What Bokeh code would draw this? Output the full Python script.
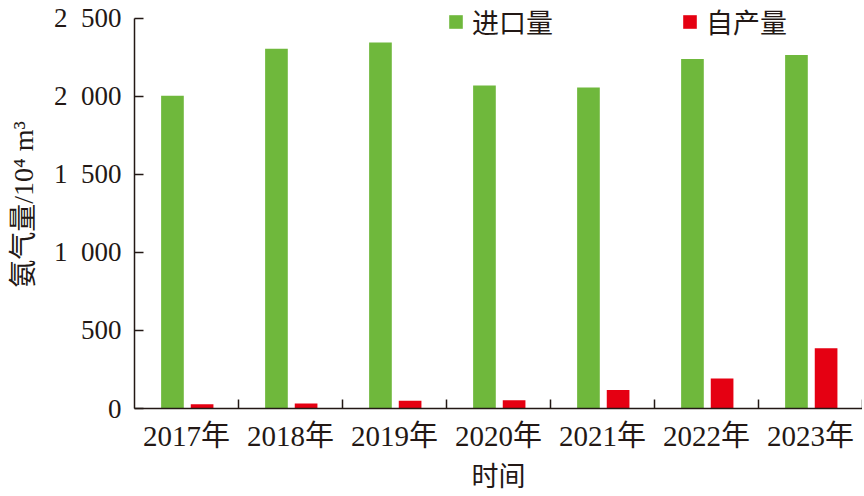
import numpy as np
from bokeh.plotting import figure
from bokeh.models import Range1d, FixedTicker, Legend, LegendItem, ColumnDataSource
from bokeh.transform import dodge
from bokeh.embed import file_html
from bokeh.resources import INLINE

# ---- data ----
years = ["2017年", "2018年", "2019年", "2020年", "2021年", "2022年", "2023年"]
imports = [2005, 2306, 2346, 2070, 2057, 2240, 2265]
domestic = [28, 32, 49, 53, 119, 193, 386]
series_names = ["进口量", "自产量"]
y_ticks = [0, 500, 1000, 1500, 2000, 2500]

GREEN = "#6fb83c"
RED = "#e50012"
INK = "#231815"
SERIF = "'Liberation Serif', 'Noto Sans CJK SC'"
CJK = "'Noto Sans CJK SC'"

idx = np.arange(len(years))
src = ColumnDataSource(dict(x=idx + 0.5, imports=imports, domestic=domestic))

# frame extends a little above 2500 so the legend can sit there; axis line bounded at 2500
p = figure(width=862, height=496,
           x_range=Range1d(0, len(years)), y_range=Range1d(0, 2615),
           output_backend="svg", toolbar_location=None,
           min_border_left=134, min_border_top=0,
           min_border_right=0, min_border_bottom=87)
p.outline_line_color = None
p.xgrid.grid_line_color = None
p.ygrid.grid_line_color = None
p.background_fill_color = "white"
p.border_fill_color = "white"

r1 = p.vbar(x=dodge("x", -0.135, range=p.x_range), top="imports", width=0.218,
            source=src, fill_color=GREEN, line_color=None)
r2 = p.vbar(x=dodge("x", 0.15, range=p.x_range), top="domestic", width=0.218,
            source=src, fill_color=RED, line_color=None)

# x axis
p.xaxis.ticker = FixedTicker(ticks=list(idx + 0.5), minor_ticks=list(range(1, len(years) + 1)))
p.xaxis.major_label_overrides = {float(i + 0.5): y for i, y in enumerate(years)}
p.xaxis.major_tick_line_color = None
p.xaxis.minor_tick_in = 9
p.xaxis.minor_tick_out = 0
p.xaxis.minor_tick_line_color = INK
p.xaxis.minor_tick_line_width = 1.5
p.xaxis.axis_line_color = INK
p.xaxis.axis_line_width = 1.5
p.xaxis.major_label_standoff = 5
p.xaxis.major_label_text_font = SERIF
p.xaxis.major_label_text_font_size = "29px"
p.xaxis.major_label_text_color = INK
p.xaxis.axis_label = "时间"
p.xaxis.axis_label_text_font = CJK
p.xaxis.axis_label_text_font_size = "27px"
p.xaxis.axis_label_text_font_style = "normal"
p.xaxis.axis_label_text_color = INK
p.xaxis.axis_label_standoff = 0

# y axis
p.yaxis.ticker = FixedTicker(ticks=y_ticks, minor_ticks=[])
p.yaxis.bounds = (0, 2500)
p.yaxis.major_label_overrides = {t: f"{t:,}".replace(",", "\u2002") for t in y_ticks}
p.yaxis.major_tick_in = 9
p.yaxis.major_tick_out = 0
p.yaxis.major_tick_line_color = INK
p.yaxis.major_tick_line_width = 1.5
p.yaxis.axis_line_color = INK
p.yaxis.axis_line_width = 1.5
p.yaxis.major_label_standoff = 13
p.yaxis.major_label_text_font = SERIF
p.yaxis.major_label_text_font_size = "27px"
p.yaxis.major_label_text_color = INK
p.yaxis.axis_label = "氨气量/10⁴ m³"
p.yaxis.axis_label_text_font = SERIF
p.yaxis.axis_label_text_font_size = "28px"
p.yaxis.axis_label_text_font_style = "normal"
p.yaxis.axis_label_text_color = INK
p.yaxis.axis_label_standoff = 12

legend = Legend(items=[LegendItem(label=series_names[0], renderers=[r1]),
                       LegendItem(label=series_names[1], renderers=[r2])],
                orientation="horizontal", location=(313, 367),
                glyph_width=17, glyph_height=17, label_standoff=8, spacing=128,
                padding=0, margin=0, border_line_color=None,
                background_fill_alpha=0,
                label_text_font=CJK, label_text_font_size="27px",
                label_text_color=INK)
p.add_layout(legend, "center")

open("out.html", "w").write(file_html(p, INLINE))
